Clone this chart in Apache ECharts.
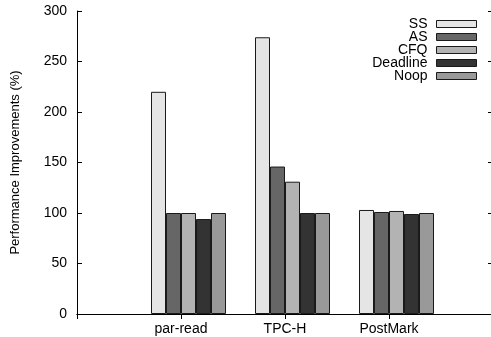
<!DOCTYPE html>
<html>
<head>
<meta charset="utf-8">
<script src="https://cdn.jsdelivr.net/npm/echarts@6/dist/echarts.min.js"></script>
<style>
html,body{margin:0;padding:0;background:#fff;}
#chart{width:491px;height:337px;}
</style>
</head>
<body>
<div id="chart"></div>
<script>
// Data
const categories = ['par-read', 'TPC-H', 'PostMark'];
const seriesNames = ['SS', 'AS', 'CFQ', 'Deadline', 'Noop'];
const ssValues = [220, 274, 103];
const asValues = [100, 146, 101];
const cfqValues = [100, 131, 102];
const deadlineValues = [94, 100, 99];
const noopValues = [100, 100, 100];
const yTicks = [0, 50, 100, 150, 200, 250, 300];

const seriesValues = [ssValues, asValues, cfqValues, deadlineValues, noopValues];
const colors = ['#e5e5e5', '#666666', '#b3b3b3', '#333333', '#999999'];

// padded category axis: empty slot on each side (gnuplot-like x range)
const axisCats = [''].concat(categories, ['']);
function pad(arr) { return ['-'].concat(arr, ['-']); }

const font = 'Liberation Sans, Arial, sans-serif';

const series = [{
  name: '_offset', type: 'bar', barWidth: 15, barGap: '0%',
  data: pad(categories.map(() => '-')), silent: true
}];
seriesNames.forEach((n, i) => {
  series.push({
    name: n, type: 'bar', barWidth: 15, barGap: '0%',
    data: pad(seriesValues[i]),
    itemStyle: { color: colors[i], borderColor: '#1a1a1a', borderWidth: 1 },
    emphasis: { disabled: true }
  });
});

const chart = echarts.init(document.getElementById('chart'), null, { renderer: 'canvas' });
chart.setOption({
  animation: false,
  backgroundColor: '#fff',
  textStyle: { fontFamily: font },
  grid: { left: 77, width: 416, top: 11, bottom: 23, containLabel: false, outerBoundsMode: 'none' },
  legend: {
    data: seriesNames,
    orient: 'vertical',
    align: 'right',
    right: 9,
    top: 12,
    itemWidth: 40,
    itemHeight: 7,
    itemGap: -1,
    icon: 'rect',
    itemStyle: { borderColor: '#1a1a1a', borderWidth: 1 },
    textStyle: { fontFamily: font, fontSize: 14, color: '#000', padding: [0, 4, 0, 0] }
  },
  xAxis: [{
    type: 'category', data: axisCats, boundaryGap: false, position: 'bottom',
    axisLine: { show: true, lineStyle: { color: '#000', width: 1 } },
    axisTick: { show: false },
    axisLabel: { color: '#000', fontSize: 14, fontFamily: font, margin: 8, interval: 0 },
    splitLine: { show: false }
  }, {
    type: 'category', data: axisCats, boundaryGap: false, position: 'top',
    axisLine: { show: true, lineStyle: { color: '#000', width: 1 } },
    axisTick: { show: true, inside: true, length: 5, interval: 0, lineStyle: { color: '#000' } },
    axisLabel: { show: false },
    splitLine: { show: false }
  }],
  yAxis: [{
    type: 'value', min: yTicks[0], max: yTicks[yTicks.length - 1], interval: 50,
    position: 'left',
    name: 'Performance Improvements (%)',
    nameLocation: 'middle', nameGap: 55, nameRotate: 90,
    nameTextStyle: { color: '#000', fontSize: 13, fontFamily: font },
    axisLine: { show: true, lineStyle: { color: '#000', width: 1 } },
    axisTick: { show: true, inside: true, length: 5, lineStyle: { color: '#000' } },
    axisLabel: { color: '#000', fontSize: 14, fontFamily: font, margin: 10 },
    splitLine: { show: false }
  }, {
    type: 'value', min: yTicks[0], max: yTicks[yTicks.length - 1], interval: 50,
    position: 'right',
    axisLine: { show: true, lineStyle: { color: '#000', width: 1 } },
    axisTick: { show: true, inside: true, length: 5, lineStyle: { color: '#000' } },
    axisLabel: { show: false },
    splitLine: { show: false }
  }],
  series: series
});
</script>
</body>
</html>
